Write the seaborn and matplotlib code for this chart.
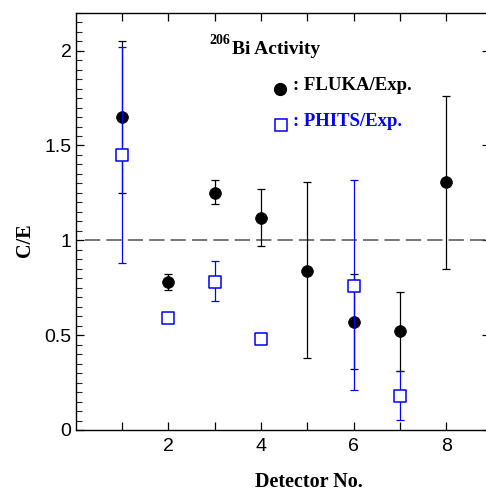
import numpy as np
import pandas as pd
import matplotlib
matplotlib.use("Agg")
import matplotlib.pyplot as plt
import seaborn as sns
from matplotlib.ticker import MultipleLocator, FixedLocator

# C/E ratios for 206Bi activity per detector
fluka_det = [1, 2, 3, 4, 5, 6, 7, 8]
fluka_ce = [1.65, 0.78, 1.25, 1.12, 0.84, 0.57, 0.52, 1.31]
fluka_hi = [2.05, 0.82, 1.32, 1.27, 1.31, 0.82, 0.73, 1.76]
fluka_lo = [1.25, 0.74, 1.19, 0.97, 0.38, 0.32, 0.31, 0.85]

phits_det = [1, 2, 3, 4, 6, 7]
phits_ce = [1.45, 0.59, 0.78, 0.48, 0.76, 0.18]
phits_hi = [2.02, 0.60, 0.89, 0.51, 1.32, 0.31]
phits_lo = [0.88, 0.58, 0.68, 0.46, 0.21, 0.055]

x_ticks = [1, 2, 3, 4, 5, 6, 7, 8]
x_ticklabels = ["", "2", "", "4", "", "6", "", "8"]
y_ticks = [0, 0.5, 1, 1.5, 2]
y_ticklabels = ["0", "0.5", "1", "1.5", "2"]

fluka = pd.DataFrame({"det": fluka_det, "ce": fluka_ce, "hi": fluka_hi, "lo": fluka_lo})
phits = pd.DataFrame({"det": phits_det, "ce": phits_ce, "hi": phits_hi, "lo": phits_lo})

sns.set_theme(style="ticks")
plt.rcParams["font.family"] = ["Liberation Sans", "DejaVu Sans"]

serif_bold = dict(family=["Liberation Serif", "DejaVu Serif"], weight="bold")
blue = "#0000ff"

fig = plt.figure(figsize=(4.86, 4.93), dpi=100)
ax = fig.add_axes([0.1558, 0.1278, 0.8527, 0.8464])

# reference ratio
ax.hlines(1.0, 0.2, 9.5, colors="#505050", linewidth=1.1,
          linestyles=(0, (10, 4)), zorder=1)

# FLUKA / Exp.
ax.errorbar(fluka["det"], fluka["ce"],
            yerr=[fluka["ce"] - fluka["lo"], fluka["hi"] - fluka["ce"]],
            fmt="none", ecolor="black", elinewidth=0.9, capsize=3.2,
            capthick=0.9, zorder=2)
sns.scatterplot(data=fluka, x="det", y="ce", ax=ax, marker="o", s=72,
                color="black", edgecolor="black", linewidth=0.5, zorder=3,
                legend=False)

# PHITS / Exp.
ax.errorbar(phits["det"], phits["ce"],
            yerr=[phits["ce"] - phits["lo"], phits["hi"] - phits["ce"]],
            fmt="none", ecolor=blue, elinewidth=0.9, capsize=3.2,
            capthick=0.9, zorder=4)
sns.scatterplot(data=phits, x="det", y="ce", ax=ax, marker="s", s=64,
                facecolor="white", edgecolor=blue, linewidth=1.1, zorder=5,
                legend=False)

ax.set_xlim(0, 8.95)
ax.set_ylim(0, 2.2)

ax.xaxis.set_major_locator(FixedLocator(x_ticks))
ax.set_xticklabels(x_ticklabels)
ax.yaxis.set_major_locator(FixedLocator(y_ticks))
ax.set_yticklabels(y_ticklabels)
ax.yaxis.set_minor_locator(MultipleLocator(0.05))

ax.tick_params(which="major", direction="in", length=5.5, width=0.9,
               top=True, right=True, labelsize=14, color="black",
               labelcolor="black")
ax.tick_params(axis="x", which="major", pad=6)
ax.tick_params(axis="y", which="major", pad=3)
ax.tick_params(axis="y", which="minor", direction="in", length=4,
               width=0.8, left=True, right=False)

for side in ["left", "bottom", "top", "right"]:
    ax.spines[side].set_visible(True)
    ax.spines[side].set_color("black")
    ax.spines[side].set_linewidth(1.0)

ax.set_xlabel("Detector No.", fontsize=14.5, color="black", **serif_bold)
ax.set_ylabel("C/E", fontsize=14.5, color="black", **serif_bold)
ax.xaxis.set_label_coords(0.562, -0.100)
ax.yaxis.set_label_coords(-0.098, 0.4545)

# annotation block
ax.text(0.3217, 0.926, "206", transform=ax.transAxes, fontsize=10,
        ha="left", va="baseline", color="black", **serif_bold)
ax.text(0.377, 0.901, "Bi Activity", transform=ax.transAxes, fontsize=14,
        ha="left", va="baseline", color="black", **serif_bold)

ax.plot([4.41], [1.80], marker="o", markersize=8.5, color="black",
        linestyle="none", zorder=6)
ax.plot([4.43], [1.61], marker="s", markersize=8, markerfacecolor="white",
        markeredgecolor=blue, markeredgewidth=1.1, linestyle="none", zorder=6)
ax.text(4.69, 1.790, ": FLUKA/Exp.", fontsize=13.5, ha="left",
        va="baseline", color="black", **serif_bold)
ax.text(4.69, 1.604, ": PHITS/Exp.", fontsize=13.5, ha="left",
        va="baseline", color=blue, **serif_bold)

fig.savefig("out.png", dpi=100)
